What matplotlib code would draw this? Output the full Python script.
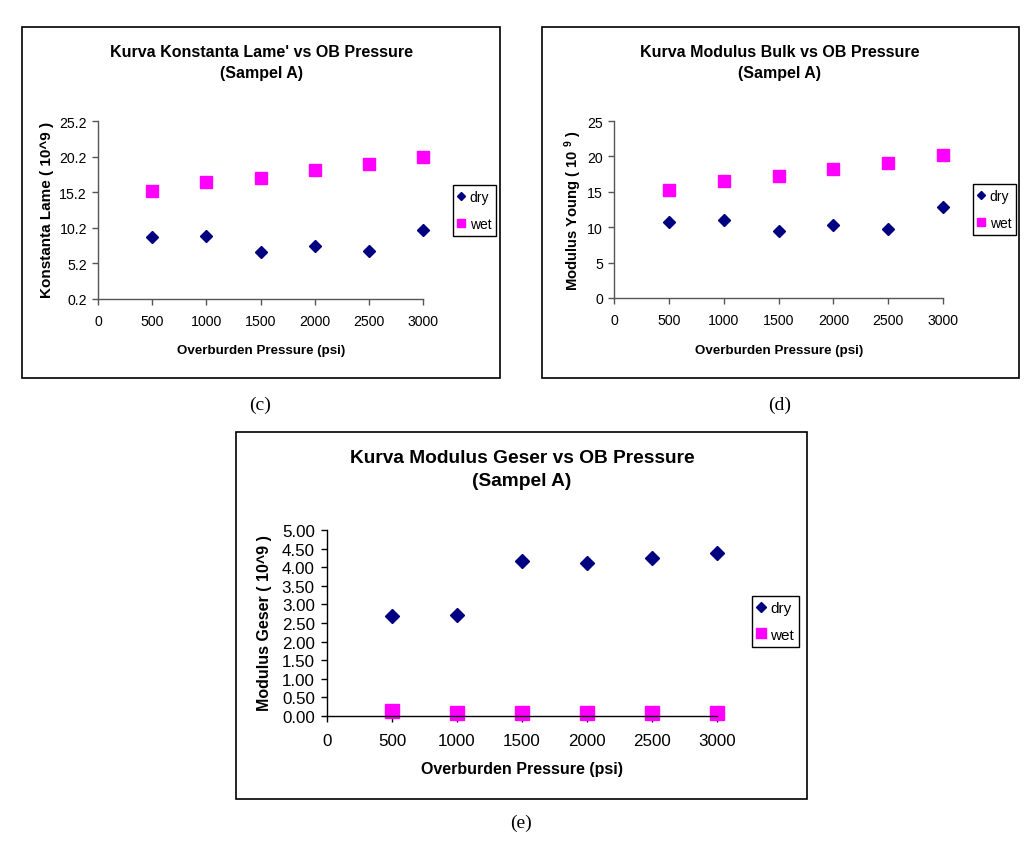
import matplotlib
matplotlib.use("Agg")
import matplotlib.pyplot as plt
from matplotlib.patches import Rectangle
import numpy as np

plt.rcParams['font.family'] = ['Liberation Sans', 'DejaVu Sans']
plt.rcParams['font.sans-serif'] = ['Liberation Sans']
plt.rcParams['mathtext.fontset'] = 'custom'
plt.rcParams['mathtext.rm'] = 'Liberation Sans:bold'
plt.rcParams['mathtext.bf'] = 'Liberation Sans:bold'

# data
pressure = [500, 1000, 1500, 2000, 2500, 3000]

lame_dry = [8.9, 9.1, 6.8, 7.7, 6.95, 9.85]
lame_wet = [15.3, 16.7, 17.2, 18.3, 19.2, 20.1]

bulk_dry = [10.75, 10.95, 9.5, 10.35, 9.7, 12.9]
bulk_wet = [15.3, 16.55, 17.3, 18.2, 19.1, 20.2]

geser_dry = [2.68, 2.72, 4.18, 4.10, 4.25, 4.39]
geser_wet = [0.125, 0.09, 0.08, 0.09, 0.09, 0.09]

x_ticks = [0, 500, 1000, 1500, 2000, 2500, 3000]
lame_yticks = [0.2, 5.2, 10.2, 15.2, 20.2, 25.2]
bulk_yticks = [0, 5, 10, 15, 20, 25]
geser_yticks = [0, 0.5, 1.0, 1.5, 2.0, 2.5, 3.0, 3.5, 4.0, 4.5, 5.0]

W, H = 1028, 853
fig = plt.figure(figsize=(W / 100, H / 100), dpi=100)


def fx(px):
    return px / W


def fy(py):
    return 1 - py / H


def panel(box, axr, title_c, lab_x, lab_y, leg, s, title, ylabel,
          dry, wet, yticks, ylabels, spine_col, ylab_size, leg_size, leg_space):
    # outer frame of the excel chart
    fig.patches.append(Rectangle((fx(box[0]), fy(box[3])), fx(box[2] - box[0]),
                                 (box[3] - box[1]) / H, transform=fig.transFigure,
                                 fill=False, edgecolor='black', linewidth=1.2))
    ax = fig.add_axes([fx(axr[0]), fy(axr[3]), fx(axr[2] - axr[0]), (axr[3] - axr[1]) / H])
    ax.plot(pressure, dry, linestyle='none', marker='D', markersize=5.8 * s,
            color='#000080', clip_on=False, label='dry')
    ax.plot(pressure, wet, linestyle='none', marker='s', markersize=8.2 * s,
            color='#ff00ff', clip_on=False, label='wet')
    ax.set_xlim(0, 3000)
    ax.set_ylim(yticks[0], yticks[-1])
    ax.set_xticks(x_ticks)
    ax.set_yticks(yticks)
    ax.set_yticklabels(ylabels)
    for sp in ['top', 'right']:
        ax.spines[sp].set_visible(False)
    for sp in ['left', 'bottom']:
        ax.spines[sp].set_color(spine_col)
        ax.spines[sp].set_linewidth(1.0)
    ax.tick_params(direction='out', length=4, width=1, color=spine_col,
                   labelsize=10.2 * s, pad=4 * s)
    ax.tick_params(axis='x', pad=7 * s)

    fig.text(fx(title_c[0]), fy(title_c[1]), title, ha='center', va='center',
             fontsize=11.5 * s, fontweight='bold', linespacing=1.45)
    fig.text(fx(lab_x[0]), fy(lab_x[1]), 'Overburden Pressure (psi)', ha='center',
             va='center', fontsize=9.6 * s, fontweight='bold')
    fig.text(fx(lab_y[0]), fy(lab_y[1]), ylabel, ha='center', va='center',
             rotation=90, fontsize=ylab_size, fontweight='bold')

    lg = ax.legend(loc='upper left', bbox_to_anchor=(fx(leg[0]), fy(leg[1])),
                   bbox_transform=fig.transFigure, borderaxespad=0, fancybox=False,
                   edgecolor='black', framealpha=1, fontsize=leg_size,
                   handlelength=0.5, handletextpad=0.35, borderpad=0.35,
                   labelspacing=leg_space, markerscale=0.72)
    lg.get_frame().set_linewidth(1.0)
    return ax


panel((22, 28, 500, 379), (98, 122, 423, 300), (261, 63), (261, 351), (47, 210),
      (453, 186), 1.0, "Kurva Konstanta Lame' vs OB Pressure\n(Sampel A)",
      'Konstanta Lame ( 10^9 )', lame_dry, lame_wet, lame_yticks,
      ['%.1f' % v for v in lame_yticks], '#555555', 11.0, 10.0, 0.95)

panel((542, 28, 1019, 379), (614, 122, 943, 299), (780, 63), (779, 351), (573, 211),
      (973, 185), 1.0, "Kurva Modulus Bulk vs OB Pressure\n(Sampel A)",
      r'Modulus Young ( 10 $^{9}$ )', bulk_dry, bulk_wet, bulk_yticks,
      ['%d' % v for v in bulk_yticks], '#555555', 10.6, 10.0, 0.95)

panel((236, 433, 807, 800), (327, 531, 717, 717), (522, 470), (522, 770), (265, 623),
      (752, 597), 1.2, "Kurva Modulus Geser vs OB Pressure\n(Sampel A)",
      'Modulus Geser ( 10^9 )', geser_dry, geser_wet, geser_yticks,
      ['%.2f' % v for v in geser_yticks], 'black', 11.5, 11.0, 0.8)

for txt, px, py in [('(c)', 260, 405), ('(d)', 780, 405), ('(e)', 521, 823)]:
    fig.text(fx(px), fy(py), txt, ha='center', va='center', fontsize=14,
             family=['Liberation Serif', 'DejaVu Serif'])

plt.savefig('out.png', dpi=100)
